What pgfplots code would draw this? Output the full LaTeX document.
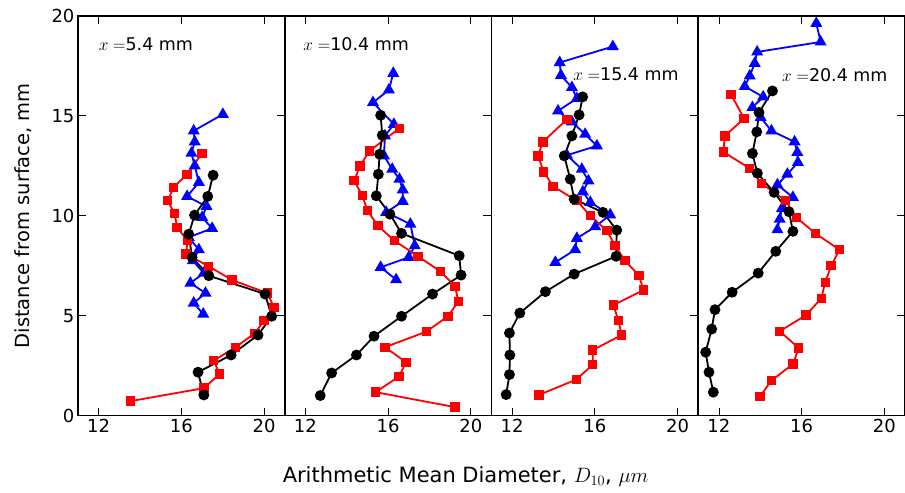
\documentclass[border=0pt]{standalone}
\usepackage{fontspec}
\setmainfont{DejaVu Sans}
\usepackage{pgfplots}
\pgfplotsset{compat=1.18}
\usepgfplotslibrary{groupplots}
\tikzset{lab/.style={anchor=west, font=\fontsize{17.5}{19}\selectfont, inner sep=0pt}}
\begin{document}
\begin{tikzpicture}
\begin{groupplot}[
 group style={group size=4 by 1, horizontal sep=0pt},
 scale only axis, width=207pt, height=400pt,
 xmin=11, xmax=21, ymin=0, ymax=20,
 xtick={12,16,20}, ytick={0,5,10,15,20},
 tick align=inside, xtick pos=both, xticklabel pos=bottom,
 major tick length=8pt,
 tick style={black, line width=0.8pt},
 axis line style={line width=1.8pt},
 ticklabel style={font=\fontsize{18}{20}\selectfont},
 /pgf/number format/assume math mode=true,
 clip=false,
 bS/.style={blue, line width=1.8pt, mark=triangle*, mark size=5.2pt, mark options={solid}},
 rS/.style={red, line width=1.8pt, mark=square*, mark size=3.8pt, mark options={solid}},
 kS/.style={black, line width=1.8pt, mark=*, mark size=4.5pt, mark options={solid}},
]
% ---------- panel 1
\nextgroupplot[ytick pos=both, yticklabel pos=left,
  ylabel={Distance from surface, mm},
  ylabel style={at={(axis description cs:-0.22,0.5)}, anchor=south, inner sep=0pt, font=\fontsize{19.5}{22}\selectfont}]
\addplot[bS] coordinates {(18.01,15.08)(16.60,14.25)(16.65,13.70)(16.49,13.13)(16.65,12.50)(16.85,11.67)(16.28,10.97)(17.22,10.47)(17.01,9.92)(17.49,9.37)(16.36,8.92)(16.85,8.30)(16.56,7.75)(17.09,7.13)(16.44,6.63)(17.17,6.13)(16.60,5.63)(17.06,5.08)};
\addplot[rS] coordinates {(17.01,13.13)(16.28,12.08)(15.63,11.42)(15.34,10.75)(15.67,10.12)(15.80,9.42)(16.30,8.75)(16.23,8.08)(17.33,7.47)(18.46,6.78)(20.16,6.13)(20.48,5.42)(20.0,4.75)(19.56,4.12)(18.62,3.42)(17.57,2.75)(17.85,2.08)(17.09,1.37)(13.53,0.72)};
\addplot[kS] coordinates {(17.54,12.03)(17.28,10.97)(16.64,10.03)(16.36,9.08)(16.52,7.92)(17.33,7.0)(20.05,6.08)(20.37,4.97)(19.71,4.03)(18.41,3.03)(16.81,2.17)(17.09,1.03)};
\node[lab] at (rel axis cs:0.10,0.93) {$x=$5.4 mm};
% ---------- panel 2
\nextgroupplot[ytick pos=right, yticklabels={}, yticklabel style={inner sep=0pt},
  xlabel={Arithmetic Mean Diameter, $D_{10}$, $\mu m$},
  xlabel style={at={(rel axis cs:0.875,-0.1675)}, anchor=base, inner sep=0pt, font=\fontsize{21}{24}\selectfont}]
\addplot[bS] coordinates {(16.25,17.13)(16.04,16.30)(15.27,15.67)(16.28,14.58)(15.85,14.0)(15.80,13.0)(16.20,12.33)(16.55,11.83)(16.71,11.30)(16.71,10.72)(15.91,10.17)(17.08,9.58)(17.29,8.5)(17.0,7.92)(15.64,7.42)(16.39,6.80)};
\addplot[rS] coordinates {(16.55,14.38)(15.11,13.25)(14.64,12.5)(14.36,11.75)(14.76,11.0)(15.0,10.25)(15.51,9.5)(16.31,8.75)(17.45,7.97)(18.55,7.2)(19.24,6.47)(19.40,5.7)(18.89,4.97)(17.85,4.2)(15.85,3.42)(16.87,2.67)(16.52,1.95)(15.40,1.17)(19.24,0.42)};
\addplot[kS] coordinates {(15.64,15.03)(15.72,14.03)(15.59,13.08)(15.53,12.08)(15.43,11.0)(16.09,10.08)(16.65,9.12)(19.44,8.0)(19.53,7.03)(18.15,6.08)(16.65,4.97)(15.32,3.97)(14.47,3.03)(13.27,2.13)(12.72,1.0)};
\node[lab] at (rel axis cs:0.09,0.93) {$x=$10.4 mm};
% ---------- panel 3
\nextgroupplot[ytick pos=right, yticklabels={}, yticklabel style={inner sep=0pt}]
\addplot[bS] coordinates {(16.87,18.47)(14.30,17.67)(14.36,17.03)(14.89,16.42)(15.13,15.87)(14.22,15.25)(14.89,14.70)(15.53,14.08)(16.10,13.5)(14.65,13.03)(15.37,12.33)(15.69,11.75)(15.42,11.2)(15.78,10.67)(16.74,10.05)(16.02,9.45)(15.13,8.87)(15.05,8.3)(14.09,7.67)};
\addplot[rS] coordinates {(14.65,14.83)(13.49,13.7)(13.25,13.0)(13.53,12.2)(13.98,11.47)(15.13,10.75)(15.78,10.0)(16.58,9.25)(16.98,8.5)(17.46,7.75)(18.14,7.0)(18.35,6.28)(16.90,5.53)(17.14,4.75)(17.30,4.03)(15.90,3.28)(15.90,2.55)(15.10,1.8)(13.29,1.03)};
\addplot[kS] coordinates {(15.41,15.95)(15.24,15.05)(14.89,14.0)(14.52,13.0)(14.81,11.83)(15.0,10.83)(16.39,10.17)(17.06,9.28)(17.03,7.97)(15.0,7.08)(13.61,6.2)(12.37,5.13)(11.87,4.13)(11.89,3.03)(11.87,2.05)(11.71,1.05)};
\node[lab] at (rel axis cs:0.395,0.853) {$x=$15.4 mm};
% ---------- panel 4
\nextgroupplot[ytick pos=right, yticklabels={}, yticklabel style={inner sep=0pt}]
\addplot[bS] coordinates {(16.71,19.63)(16.92,18.7)(13.85,18.2)(13.73,17.63)(13.49,17.0)(13.25,16.47)(14.14,15.95)(13.62,15.42)(14.02,14.92)(14.54,14.25)(15.66,13.7)(15.79,13.17)(15.82,12.67)(15.31,12.08)(14.83,11.55)(15.58,10.92)(15.05,10.37)(14.94,9.83)(14.83,9.3)};
\addplot[rS] coordinates {(12.58,16.08)(13.22,14.87)(12.29,14.0)(12.21,13.2)(13.49,12.37)(14.06,11.62)(15.23,10.75)(15.74,9.92)(16.66,9.12)(17.83,8.3)(17.43,7.5)(17.14,6.67)(16.95,5.87)(16.22,5.03)(14.94,4.22)(15.86,3.38)(15.58,2.58)(14.54,1.75)(13.98,0.95)};
\addplot[kS] coordinates {(14.59,16.25)(13.94,15.17)(13.83,14.2)(13.62,13.12)(13.86,12.13)(14.67,11.17)(15.39,10.2)(15.58,9.22)(14.75,8.22)(13.90,7.13)(12.64,6.17)(11.81,5.3)(11.65,4.33)(11.36,3.17)(11.52,2.17)(11.73,1.17)};
\node[lab] at (rel axis cs:0.405,0.853) {$x=$20.4 mm};
\end{groupplot}
\pgfresetboundingbox
\path[use as bounding box] ([shift={(-78pt,-77pt)}]group c1r1.south west) rectangle ([shift={(0pt,16pt)}]group c4r1.north east);
\end{tikzpicture}
\end{document}
